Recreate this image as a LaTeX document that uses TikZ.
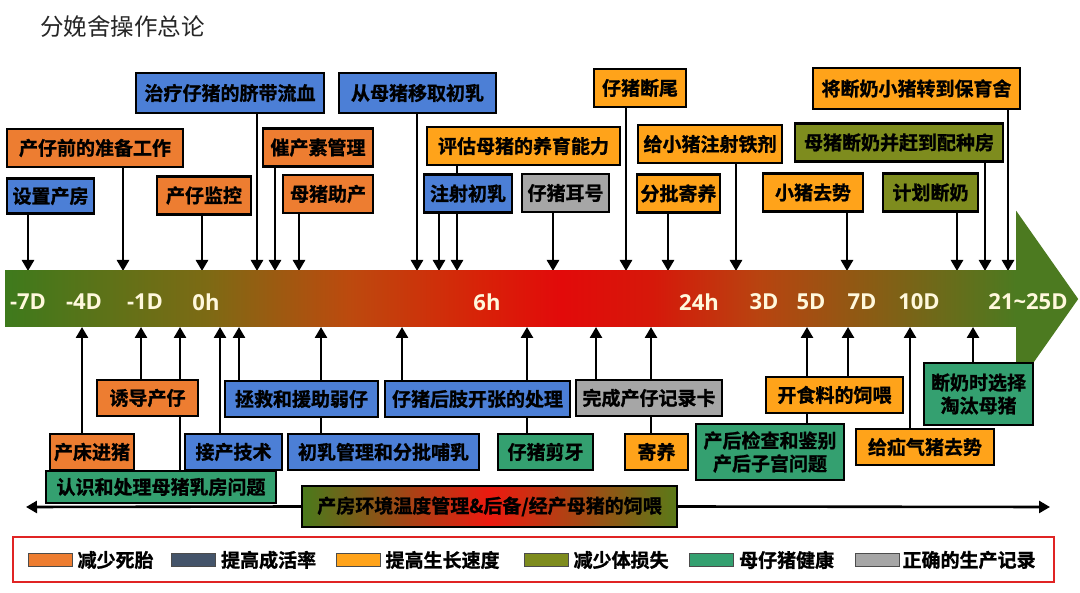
\documentclass[tikz,border=0pt]{standalone}
\usepackage{fontspec}
\usepackage{tikz}
\usetikzlibrary{positioning,arrows.meta,backgrounds}
\newfontfamily\cjk{Noto Sans CJK SC}[BoldFont={Noto Sans CJK SC Bold},BoldFeatures={FakeBold=1.2}]
\newfontfamily\tickfont{Open Sans}
\definecolor{SowRed}{HTML}{ED7D31}
\definecolor{SowBlue}{HTML}{4C7FD6}
\definecolor{SlateBlue}{HTML}{44546A}
\definecolor{PigOrange}{HTML}{FFA31A}
\definecolor{PigOlive}{HTML}{7E8C1E}
\definecolor{PigGreen}{HTML}{34A070}
\definecolor{RecGray}{HTML}{A6A6A6}
\definecolor{BarGreen}{HTML}{4C7A20}
\definecolor{BarA}{HTML}{3E7A1C}
\definecolor{BarB}{HTML}{7D6A14}
\definecolor{BarC}{HTML}{BC4A0E}
\definecolor{BarD}{HTML}{D82208}
\definecolor{BarE}{HTML}{E20A0A}
\definecolor{BarF}{HTML}{D6180A}
\definecolor{BarG}{HTML}{B84410}
\definecolor{BarH}{HTML}{8A5C14}
\definecolor{BandL}{HTML}{4A7A1C}
\definecolor{BandM}{HTML}{EC1A10}
\definecolor{BandR}{HTML}{5A7A18}
\definecolor{TickCream}{HTML}{FFF8DC}
\definecolor{LegRed}{HTML}{E02424}
\pgfdeclarehorizontalshading{barshade}{100bp}{color(0bp)=(BarA); color(25bp)=(BarA);
  color(35bp)=(BarB); color(42bp)=(BarC); color(48.5bp)=(BarD); color(52.5bp)=(BarE);
  color(57bp)=(BarF); color(62.3bp)=(BarG); color(67.8bp)=(BarH); color(75bp)=(BarGreen);
  color(100bp)=(BarGreen)}
\pgfdeclarehorizontalshading{bandshade}{100bp}{color(0bp)=(BandL); color(25bp)=(BandL);
  color(50bp)=(BandM); color(75bp)=(BandR); color(100bp)=(BandR)}
\tikzset{
  box/.style={draw=black,line width=2.2pt,fill=#1,inner sep=0pt,minimum height=38pt,
    align=center,font=\cjk\bfseries\fontsize{19pt}{23pt}\selectfont},
  bar/.style={shading=barshade,minimum width=1011pt,minimum height=56pt,inner sep=0pt},
  tick/.style={text=TickCream,font=\tickfont\bfseries\fontsize{22pt}{24pt}\selectfont},
  arr/.style={line width=2.6pt,-{Triangle[width=12pt,length=11pt]}},
  legtext/.style={inner sep=0pt,font=\cjk\bfseries\fontsize{19pt}{23pt}\selectfont},
  swatch/.style={draw=black!70,line width=0.8pt,fill=#1,minimum width=44pt,
    minimum height=13pt,inner sep=0pt},
}

\begin{document}
\begin{tikzpicture}[x=1pt,y=-1pt]
\useasboundingbox (0,0) rectangle (1080,593);
\node[anchor=west,inner sep=0pt,text=black!85,font=\cjk\fontsize{23.5pt}{26pt}\selectfont]
  (title) at (40,27) {分娩舍操作总论};

% timeline
\node[bar] (bar) at (510.5,299) {};
\fill[BarGreen] ([yshift=60pt]bar.north east) -- ([xshift=62pt]bar.east)
  -- ([yshift=-60pt]bar.south east) -- cycle;
\node[tick] (m7d) at (28,302) {-7D};
\node[tick] (m4d) at (84,302) {-4D};
\node[tick] (m1d) at (145,302) {-1D};
\node[tick] (h0) at (206,302) {0h};
\node[tick] (h6) at (487,302) {6h};
\node[tick] (h24) at (699,302) {24h};
\node[tick] (d3) at (764,302) {3D};
\node[tick] (d5) at (811,302) {5D};
\node[tick] (d7) at (862,302) {7D};
\node[tick] (d10) at (919,302) {10D};
\node[tick] (d21) at (1028,302) {21\textasciitilde25D};

% boxes above the bar
\node[box=SowBlue,minimum width=188pt,minimum height=40pt] (navel) at (230,93) {治疗仔猪的脐带流血};
\node[box=SowBlue,minimum width=157pt,minimum height=40pt] (colos) at (417.5,93) {从母猪移取初乳};
\node[box=PigOrange,minimum width=92pt] (tail) at (640,88) {仔猪断尾};
\node[box=PigOrange,minimum width=207pt,minimum height=41pt] (weanmove) at (916.5,88.5) {将断奶小猪转到保育舍};
\node[box=SowRed,minimum width=176pt] (prep) at (95,148) {产仔前的准备工作};
\node[box=SowRed,minimum width=110pt] (oxy) at (318,147.5) {催产素管理};
\node[box=PigOrange,minimum width=193pt] (assess) at (523.5,146) {评估母猪的养育能力};
\node[box=PigOrange,minimum width=144pt] (iron) at (710,144) {给小猪注射铁剂};
\node[box=PigOlive,minimum width=208pt] (sowwean) at (899,142.5) {母猪断奶并赶到配种房};
\node[box=SowBlue,minimum width=87pt,minimum height=35pt] (setroom) at (50.5,196) {设置产房};
\node[box=SowRed,minimum width=94pt] (monitor) at (204,195.5) {产仔监控};
\node[box=SowRed,minimum width=90pt] (assist) at (328,194) {母猪助产};
\node[box=SowBlue,minimum width=88pt] (inject) at (468,193.5) {注射初乳};
\node[box=RecGray,minimum width=87pt] (eartag) at (565.5,193) {仔猪耳号};
\node[box=PigOrange,minimum width=83pt] (foster1) at (678.5,193.5) {分批寄养};
\node[box=PigOrange,minimum width=100pt] (castr) at (813,192.5) {小猪去势};
\node[box=PigOlive,minimum width=95pt] (planwean) at (930.5,192.5) {计划断奶};

% boxes below the bar
\node[box=SowRed,minimum width=101pt,minimum height=36pt] (induce) at (147.5,398) {诱导产仔};
\node[box=SowBlue,minimum width=153pt,minimum height=36pt] (rescue) at (301.5,399) {拯救和援助弱仔};
\node[box=SowBlue,minimum width=185pt,minimum height=36pt] (splay) at (477.5,399) {仔猪后肢开张的处理};
\node[box=RecGray,minimum width=146pt,minimum height=36pt] (record) at (649,398) {完成产仔记录卡};
\node[box=PigOrange,minimum width=137pt,minimum height=36pt] (feed) at (834.5,395) {开食料的饲喂};
\node[box=PigGreen,minimum width=109pt,minimum height=62pt] (cull) at (978.5,394) {断奶时选择\\淘汰母猪};
\node[box=SowRed,minimum width=84pt,minimum height=36pt] (bedin) at (92,452) {产床进猪};
\node[box=SowBlue,minimum width=97pt,minimum height=36pt] (deliver) at (233.5,452) {接产技术};
\node[box=SowBlue,minimum width=191pt,minimum height=36pt] (colmgmt) at (383.5,452) {初乳管理和分批哺乳};
\node[box=PigGreen,minimum width=95pt,minimum height=36pt] (teeth) at (545.5,452) {仔猪剪牙};
\node[box=PigOrange,minimum width=63pt,minimum height=36pt] (foster2) at (656.5,452) {寄养};
\node[box=PigGreen,minimum width=148pt,minimum height=56pt] (postcheck) at (770,452) {产后检查和鉴别\\产后子宫问题};
\node[box=PigOrange,minimum width=138pt,minimum height=36pt] (hernia) at (925,447) {给疝气猪去势};
\node[box=PigGreen,minimum width=230pt,minimum height=32pt] (udder) at (161,487) {认识和处理母猪乳房问题};
\node[box=PigGreen,shading=bandshade,minimum width=375pt,minimum height=41pt] (band) at (489.5,506.5)
  {产房环境温度管理\&后备/经产母猪的饲喂};

% arrow ends on the bar
\coordinate (p1) at (28,271);
\coordinate (p2) at (123,271);
\coordinate (p3) at (202,271);
\coordinate (p4) at (257,271);
\coordinate (p5) at (275,271);
\coordinate (p6) at (299,271);
\coordinate (p7) at (417,271);
\coordinate (p8) at (439,271);
\coordinate (p9) at (457,271);
\coordinate (p10) at (553,271);
\coordinate (p11) at (626,271);
\coordinate (p12) at (668,271);
\coordinate (p13) at (736,271);
\coordinate (p14) at (847,271);
\coordinate (p15) at (957,271);
\coordinate (p16) at (985,271);
\coordinate (p17) at (1008,271);
\coordinate (q1) at (82,327);
\coordinate (q2) at (141,327);
\coordinate (q3) at (180,327);
\coordinate (q4) at (220,327);
\coordinate (q5) at (239,327);
\coordinate (q6) at (321,327);
\coordinate (q7) at (402,327);
\coordinate (q8) at (527,327);
\coordinate (q9) at (596,327);
\coordinate (q10) at (651,327);
\coordinate (q11) at (807,327);
\coordinate (q12) at (848,327);
\coordinate (q13) at (910,327);
\coordinate (q14) at (973,327);
\coordinate (bandl) at (26,507);
\coordinate (bandr) at (1050,507);

\begin{scope}[on background layer]
\fill[white] (0,0) rectangle (1080,593);
\draw[arr] (setroom.south -| p1) -- (p1);
\draw[arr] (prep.south -| p2) -- (p2);
\draw[arr] (monitor.south -| p3) -- (p3);
\draw[arr] (navel.south -| p4) -- (p4);
\draw[arr] (oxy.south -| p5) -- (p5);
\draw[arr] (assist.south -| p6) -- (p6);
\draw[arr] (colos.south -| p7) -- (p7);
\draw[arr] (inject.south -| p8) -- (p8);
\draw[arr] (assess.south -| p9) -- (p9);
\draw[arr] (eartag.south -| p10) -- (p10);
\draw[arr] (tail.south -| p11) -- (p11);
\draw[arr] (foster1.south -| p12) -- (p12);
\draw[arr] (iron.south -| p13) -- (p13);
\draw[arr] (castr.south -| p14) -- (p14);
\draw[arr] (planwean.south -| p15) -- (p15);
\draw[arr] (sowwean.south -| p16) -- (p16);
\draw[arr] (weanmove.south -| p17) -- (p17);
\draw[arr] (bedin.north -| q1) -- (q1);
\draw[arr] (induce.north -| q2) -- (q2);
\draw[arr] (udder.north -| q3) -- (q3);
\draw[arr] (deliver.north -| q4) -- (q4);
\draw[arr] (rescue.north -| q5) -- (q5);
\draw[arr] (colmgmt.north -| q6) -- (q6);
\draw[arr] (splay.north -| q7) -- (q7);
\draw[arr] (teeth.north -| q8) -- (q8);
\draw[arr] (record.north -| q9) -- (q9);
\draw[arr] (foster2.north -| q10) -- (q10);
\draw[arr] (postcheck.north -| q11) -- (q11);
\draw[arr] (feed.north -| q12) -- (q12);
\draw[arr] (hernia.north -| q13) -- (q13);
\draw[arr] (cull.north -| q14) -- (q14);
\draw[arr] (band.west) -- (bandl);
\draw[arr] (band.east) -- (bandr);
\end{scope}

% legend
\node[draw=LegRed,line width=2pt,minimum width=1041pt,minimum height=45pt] (legend) at (533.5,559.5) {};
\node[swatch=SowRed] (s1) at (50,560) {};
\node[legtext,right=5pt of s1] (l1) {减少死胎};
\node[swatch=SlateBlue] (s2) at (193.5,560) {};
\node[legtext,right=5pt of s2] (l2) {提高成活率};
\node[swatch=PigOrange] (s3) at (358,560) {};
\node[legtext,right=5pt of s3] (l3) {提高生长速度};
\node[swatch=PigOlive] (s4) at (546,560) {};
\node[legtext,right=5pt of s4] (l4) {减少体损失};
\node[swatch=PigGreen] (s5) at (711.5,560) {};
\node[legtext,right=5pt of s5] (l5) {母仔猪健康};
\node[swatch=RecGray] (s6) at (877,560) {};
\node[legtext,right=3pt of s6] (l6) {正确的生产记录};
\end{tikzpicture}
\end{document}
